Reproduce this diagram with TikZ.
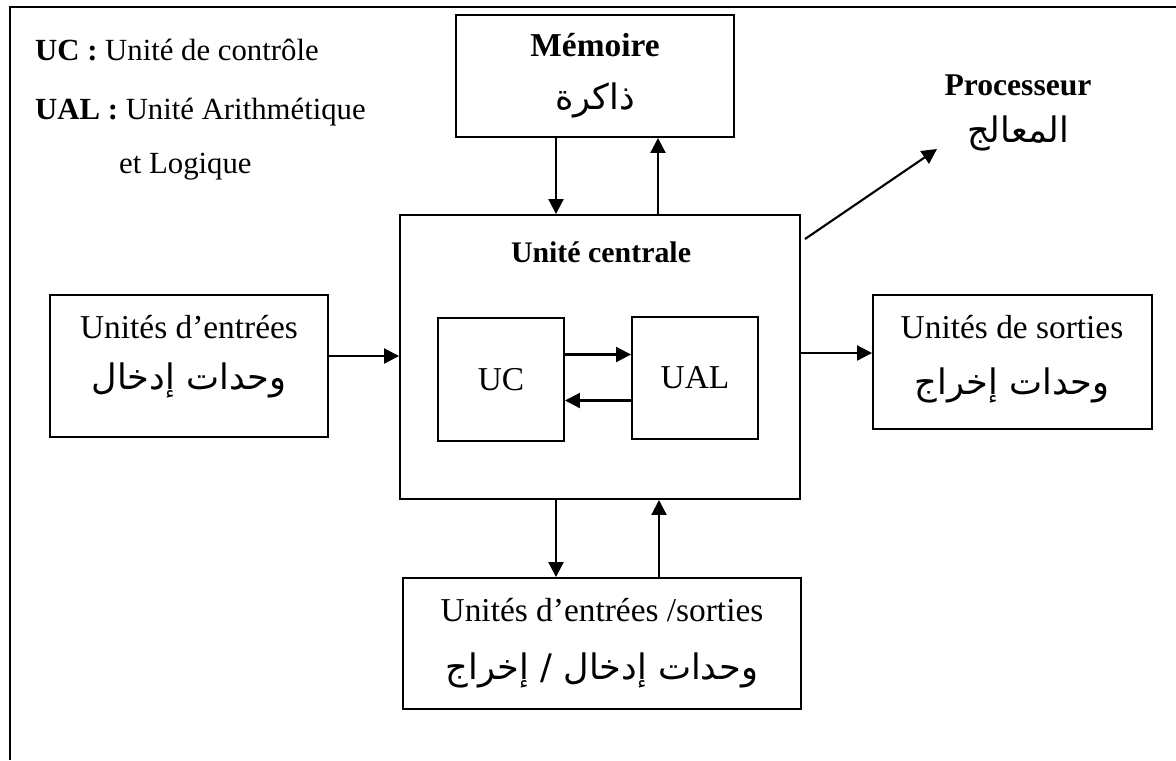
\documentclass[tikz,border=0pt]{standalone}
\usepackage{fontspec}
\setmainfont{Liberation Serif}
\newfontfamily\arabe[Script=Arabic]{DejaVu Sans}
\TeXXeTstate=1
\usetikzlibrary{arrows.meta}

\begin{document}
\begin{tikzpicture}[
    boite/.style={draw, line width=1.1pt, inner sep=0pt},
    fleche/.style={line width=1.2pt, -{Triangle[length=3mm,width=3mm]}},
    texte/.style={font=\fontsize{19}{23}\selectfont},
    legende/.style={anchor=west, font=\fontsize{17.5}{21}\selectfont},
    arabe/.style={font=\fontsize{20}{24}\selectfont\arabe},
]

\useasboundingbox (0,0) rectangle (23.52,-15.2);

% Cadre
\draw[line width=1.1pt] (23.52,-0.14) -- (0.2,-0.14) -- (0.2,-15.2);

% Légende
\node[legende] (leg uc) at (0.58,-1.0) {\textbf{UC :} Unité de contrôle};
\node[legende] (leg ual) at (0.58,-2.24) {\textbf{UAL :} Unité Arithmétique};
\node[legende] (leg log) at (2.26,-3.34) {et Logique};

% Mémoire
\node[boite, minimum width=5.56cm, minimum height=2.44cm] (memoire) at (11.9,-1.52) {};
\node[font=\fontsize{19}{23}\selectfont\bfseries] (memoire fr) at (11.9,-0.9) {Mémoire};
\node[arabe] (memoire ar) at (11.9,-2.0) {\beginR ذاكرة\endR};

% Unité centrale
\node[boite, minimum width=8cm, minimum height=5.68cm] (centrale) at (12,-7.14) {};
\node[font=\fontsize{17}{21}\selectfont\bfseries] (centrale fr) at (12.02,-5.04) {Unité centrale};
\node[boite, texte, minimum width=2.52cm, minimum height=2.46cm] (uc) at (10.02,-7.59) {UC};
\node[boite, texte, minimum width=2.52cm, minimum height=2.44cm] (ual) at (13.9,-7.56) {UAL};

% Processeur
\node[font=\fontsize{18}{22}\selectfont\bfseries] (proc fr) at (20.36,-1.7) {Processeur};
\node[arabe] (proc ar) at (20.36,-2.66) {\beginR المعالج\endR};
\coordinate (proc) at (18.74,-2.98);

% Unités d'entrées
\node[boite, minimum width=5.56cm, minimum height=2.84cm] (entree) at (3.78,-7.32) {};
\node[texte] (entree fr) at (3.78,-6.54) {Unités d’entrées};
\node[arabe] (entree ar) at (3.78,-7.6) {\beginR وحدات إدخال\endR};

% Unités de sorties
\node[boite, minimum width=5.58cm, minimum height=2.68cm] (sortie) at (20.25,-7.24) {};
\node[texte] (sortie fr) at (20.24,-6.54) {Unités de sorties};
\node[arabe] (sortie ar) at (20.24,-7.7) {\beginR وحدات إخراج\endR};

% Unités d'entrées/sorties
\node[boite, minimum width=7.96cm, minimum height=2.62cm] (es) at (12.04,-12.87) {};
\node[texte] (es fr) at (12.04,-12.2) {Unités d'entrées /sorties};
\node[arabe] (es ar) at (12.04,-13.4) {\beginR وحدات إدخال / إخراج\endR};

% Flèches
\draw[fleche] ([xshift=-0.78cm]memoire.south) -- ([xshift=-0.78cm]memoire.south |- centrale.north);
\draw[fleche] ([xshift=1.16cm]centrale.north) -- ([xshift=1.16cm]centrale.north |- memoire.south);
\draw[fleche] ([yshift=0.5cm]uc.east) -- ([yshift=0.5cm]uc.east -| ual.west);
\draw[fleche] ([yshift=-0.42cm]uc.east -| ual.west) -- ([yshift=-0.42cm]uc.east);
\draw[fleche] ([yshift=0.2cm]entree.east) -- ([yshift=0.2cm]entree.east -| centrale.west);
\draw[fleche] ([yshift=0.08cm]centrale.east) -- ([yshift=0.08cm]centrale.east -| sortie.west);
\draw[fleche] ([xshift=-0.88cm]centrale.south) -- ([xshift=-0.88cm]centrale.south |- es.north);
\draw[fleche] ([xshift=1.14cm]es.north) -- ([xshift=1.14cm]es.north |- centrale.south);
\draw[fleche] ([shift={(0.08,-0.5)}]centrale.north east) -- (proc);

\end{tikzpicture}
\end{document}
